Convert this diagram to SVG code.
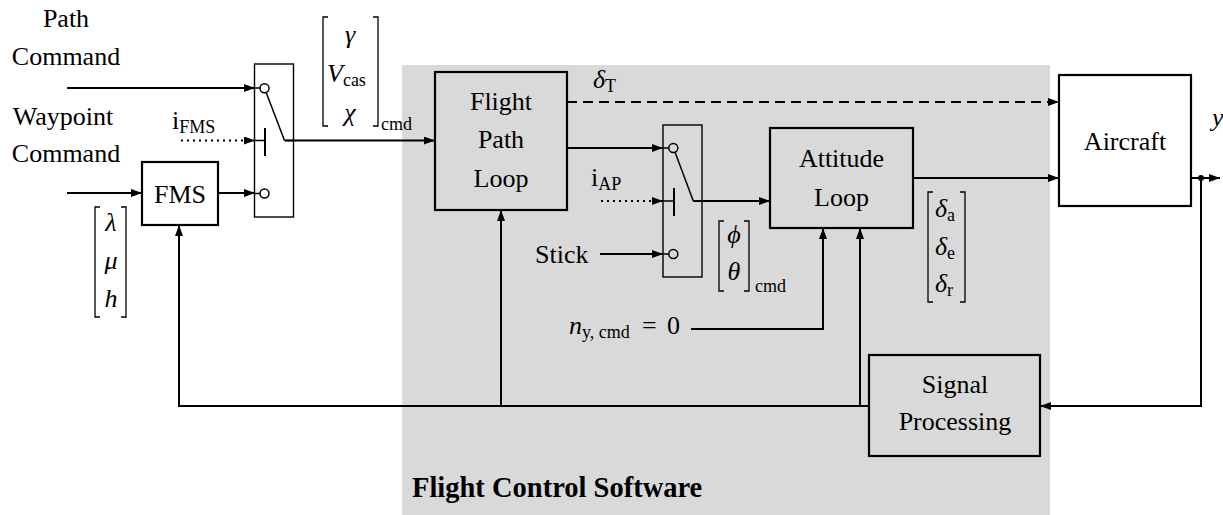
<svg xmlns="http://www.w3.org/2000/svg" width="1223" height="515" viewBox="0 0 1223 515" font-family="Liberation Serif, Times New Roman, serif">
<defs>
<marker id="arr" markerUnits="userSpaceOnUse" markerWidth="12" markerHeight="10" refX="11" refY="4" orient="auto">
<path d="M0,0 L11,4 L0,8 z" fill="#000"/>
</marker>
</defs>
<style>
.c{text-anchor:middle}
.it{font-style:italic}
.box{fill:none;stroke:#000;stroke-width:2.2}
.wbox{fill:#fff;stroke:#000;stroke-width:2.2}
.sw{fill:none;stroke:#000;stroke-width:1.4}
.ln{fill:none;stroke:#000;stroke-width:2}
.thin{fill:none;stroke:#000;stroke-width:1.5}
.br{fill:none;stroke:#000;stroke-width:1.3}
.dot{stroke-dasharray:2,4}
.dash{stroke-dasharray:10,6}
</style>
<rect id="fcs-region" x="402" y="65" width="648" height="450" fill="#d9d9d9"/>
<text x="412" y="497" font-family="Liberation Serif, serif" font-weight="bold" font-size="28.5">Flight Control Software</text>

<g id="connectors">
<line class="ln" x1="67" y1="88" x2="255" y2="88" marker-end="url(#arr)"/>
<line class="ln dot" x1="181" y1="140.5" x2="255" y2="140.5" marker-end="url(#arr)"/>
<line class="ln" x1="67" y1="193" x2="142" y2="193" marker-end="url(#arr)"/>
<line class="ln" x1="218" y1="193" x2="255" y2="193" marker-end="url(#arr)"/>
<line class="ln" x1="285" y1="140.5" x2="435" y2="140.5" marker-end="url(#arr)"/>
<line class="ln dash" x1="567" y1="102" x2="1059" y2="102" marker-end="url(#arr)"/>
<line class="ln" x1="567" y1="148" x2="663" y2="148" marker-end="url(#arr)"/>
<line class="ln dot" x1="601" y1="201" x2="663" y2="201" marker-end="url(#arr)"/>
<line class="ln" x1="600" y1="254" x2="663" y2="254" marker-end="url(#arr)"/>
<line class="ln" x1="693" y1="201" x2="770" y2="201" marker-end="url(#arr)"/>
<line class="ln" x1="913" y1="178" x2="1059" y2="178" marker-end="url(#arr)"/>
<line class="ln" x1="1191" y1="178" x2="1220" y2="178" marker-end="url(#arr)"/>
<circle cx="1201" cy="178" r="3" fill="#000"/>
<polyline class="ln" points="1201,178 1201,406 1040,406" marker-end="url(#arr)"/>
<polyline class="ln" points="869,406 179,406 179,225" marker-end="url(#arr)"/>
<line class="ln" x1="501" y1="406" x2="501" y2="210" marker-end="url(#arr)"/>
<line class="ln" x1="860" y1="406" x2="860" y2="228" marker-end="url(#arr)"/>
<polyline class="ln" points="691,329 823,329 823,228" marker-end="url(#arr)"/>
</g>

<g id="switch-fms">
<rect class="sw" x="254.5" y="64" width="39" height="153"/>
<line class="thin" x1="254.5" y1="88" x2="260" y2="88"/>
<circle class="thin" cx="264.5" cy="88.3" r="4.5"/>
<line class="thin" x1="254.5" y1="193.5" x2="260" y2="193.5"/>
<circle class="thin" cx="264.5" cy="193.5" r="4.5"/>
<line class="thin" x1="254.5" y1="140.5" x2="265" y2="140.5"/>
<line class="ln" x1="265" y1="128" x2="265" y2="156"/>
<line class="thin" x1="266" y1="92" x2="284.5" y2="140.5"/>
<line class="thin" x1="284.5" y1="140.5" x2="294" y2="140.5"/>
</g>

<g id="switch-ap">
<rect class="sw" x="663" y="125" width="39" height="152"/>
<line class="thin" x1="663" y1="148" x2="668.5" y2="148"/>
<circle class="thin" cx="673.3" cy="148" r="4.5"/>
<line class="thin" x1="663" y1="254" x2="668.5" y2="254"/>
<circle class="thin" cx="673.3" cy="254" r="4.5"/>
<line class="thin" x1="663" y1="201" x2="674" y2="201"/>
<line class="ln" x1="674" y1="188" x2="674" y2="216"/>
<line class="thin" x1="675" y1="152" x2="693.3" y2="201"/>
<line class="thin" x1="693" y1="201" x2="702" y2="201"/>
</g>

<g id="fms" font-family="Liberation Serif, serif" font-size="26">
<rect class="wbox" x="142" y="162" width="76" height="63"/>
<text class="c" x="180" y="203">FMS</text>
</g>
<g id="flight-path-loop" font-family="Liberation Serif, serif" font-size="26">
<rect class="box" x="435" y="72" width="132" height="138"/>
<text class="c" x="501" y="110">Flight</text>
<text class="c" x="501" y="148">Path</text>
<text class="c" x="501" y="187">Loop</text>
</g>
<g id="attitude-loop" font-family="Liberation Serif, serif" font-size="26">
<rect class="box" x="770" y="128" width="143" height="100"/>
<text class="c" x="841.5" y="167">Attitude</text>
<text class="c" x="841.5" y="206">Loop</text>
</g>
<g id="aircraft" font-family="Liberation Serif, serif" font-size="26">
<rect class="wbox" x="1059" y="75" width="132" height="131"/>
<text class="c" x="1125" y="150">Aircraft</text>
</g>
<g id="signal-processing" font-family="Liberation Serif, serif" font-size="26">
<rect class="box" x="869" y="355" width="171" height="101"/>
<text class="c" x="955" y="393">Signal</text>
<text class="c" x="955" y="430">Processing</text>
</g>

<g id="labels" font-family="Liberation Serif, serif" font-size="26">
<text class="c" x="66" y="27">Path</text>
<text class="c" x="66" y="65">Command</text>
<text class="c" x="63" y="125">Waypoint</text>
<text class="c" x="66" y="162">Command</text>
<text x="172" y="129">i<tspan font-size="18" dy="4">FMS</tspan></text>
<text x="591" y="186">i<tspan font-size="18" dy="4">AP</tspan></text>
<text x="593" y="88"><tspan class="it">δ</tspan><tspan font-size="18" dy="4">T</tspan></text>
<text x="535" y="263">Stick</text>
<text x="569" y="334"><tspan class="it">n</tspan><tspan font-size="18" dy="4">y, cmd</tspan><tspan dy="-4" x="642">=</tspan><tspan x="667">0</tspan></text>
<text class="it" x="1212" y="126">y</text>
</g>

<g id="vec-cmd" font-family="Liberation Serif, serif" font-size="26">
<path class="br" d="M328,17 H323 V126 H328 M373,17 H378 V126 H373"/>
<text class="c it" x="350" y="43">γ</text>
<text x="327" y="82"><tspan class="it">V</tspan><tspan font-size="18" dy="4">cas</tspan></text>
<text class="c it" x="350" y="121">χ</text>
<text x="381" y="130" font-size="18">cmd</text>
</g>
<g id="vec-wp" font-family="Liberation Serif, serif" font-size="26">
<path class="br" d="M100,207 H95 V317 H100 M121,207 H126 V317 H121"/>
<text class="c it" x="111" y="231">λ</text>
<text class="c it" x="111" y="269">μ</text>
<text class="c it" x="111" y="307">h</text>
</g>
<g id="vec-att" font-family="Liberation Serif, serif" font-size="26">
<path class="br" d="M724,221 H719 V291 H724 M744,221 H749 V291 H744"/>
<text class="c it" x="734" y="243">ϕ</text>
<text class="c it" x="734" y="280">θ</text>
<text x="755" y="292" font-size="18">cmd</text>
</g>
<g id="vec-surf" font-family="Liberation Serif, serif" font-size="26">
<path class="br" d="M933,192 H928 V302 H933 M960,192 H965 V302 H960"/>
<text x="935" y="217"><tspan class="it">δ</tspan><tspan font-size="18" dy="4">a</tspan></text>
<text x="935" y="255"><tspan class="it">δ</tspan><tspan font-size="18" dy="4">e</tspan></text>
<text x="935" y="292"><tspan class="it">δ</tspan><tspan font-size="18" dy="4">r</tspan></text>
</g>
</svg>
